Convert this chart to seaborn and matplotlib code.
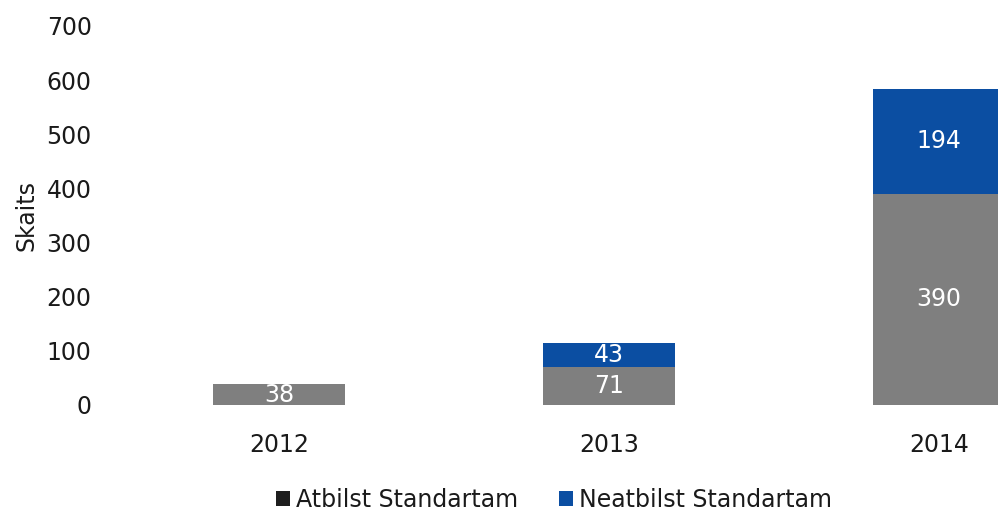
import matplotlib
matplotlib.use("Agg")
import matplotlib.pyplot as plt
from matplotlib.patches import Patch
import seaborn as sns
import pandas as pd

# Data
years = ["2012", "2013", "2014"]
atbilst = [38, 71, 390]        # compliant
neatbilst = [0, 43, 194]       # non-compliant
y_ticks = [0, 100, 200, 300, 400, 500, 600, 700]

grey = "#7f7f7f"
blue = "#0b4ea2"
legend_dark = "#1e1e1e"
fs = 17

sns.set_theme(style="white")
plt.rcParams["font.family"] = ["DejaVu Sans"]

df = pd.DataFrame({
    "Gads": years,
    "Atbilst": atbilst,
    "Neatbilst": neatbilst,
})
df["Kopā"] = df["Atbilst"] + df["Neatbilst"]

fig = plt.figure(figsize=(9.98, 5.14), dpi=100)
ax = fig.add_axes([100 / 998, (514 - 405) / 514, 1 - 100 / 998, (405 - 26) / 514])

# stacked bars: full height in blue, the compliant part in grey on top of it
sns.barplot(data=df, x="Gads", y="Kopā", order=years, color=blue,
            width=0.4, saturation=1, ax=ax, edgecolor="none")
sns.barplot(data=df, x="Gads", y="Atbilst", order=years, color=grey,
            width=0.4, saturation=1, ax=ax, edgecolor="none")

# value labels inside each segment
for i, (a, n) in enumerate(zip(df["Atbilst"], df["Neatbilst"])):
    if a > 0:
        ax.text(i, a / 2, f"{a}", ha="center", va="center",
                color="white", fontsize=fs)
    if n > 0:
        ax.text(i, a + n / 2, f"{n}", ha="center", va="center",
                color="white", fontsize=fs)

ax.set_ylim(0, 700)
ax.set_xlim((100 - 279) / 330, (998 - 279) / 330)
ax.set_yticks(y_ticks)
ax.set_yticklabels([str(t) for t in y_ticks], fontsize=fs, color="#1a1a1a")
ax.tick_params(axis="y", length=0, pad=6)
ax.tick_params(axis="x", length=0, pad=20, labelsize=fs, labelcolor="#1a1a1a")
ax.set_xlabel("")
ax.set_ylabel("Skaits", fontsize=fs, color="#1a1a1a", labelpad=6)
for s in ax.spines.values():
    s.set_visible(False)
ax.grid(False)

handles = [Patch(facecolor=legend_dark, edgecolor="none", label="Atbilst Standartam"),
           Patch(facecolor=blue, edgecolor="none", label="Neatbilst Standartam")]
fig.legend(handles=handles, loc="center", bbox_to_anchor=(554 / 998, 14 / 514),
           ncol=2, frameon=False, fontsize=fs, handlelength=0.6,
           handleheight=0.6, handletextpad=0.25, columnspacing=1.7,
           labelcolor="#1a1a1a")

fig.savefig("out.png", dpi=100, facecolor="white")
